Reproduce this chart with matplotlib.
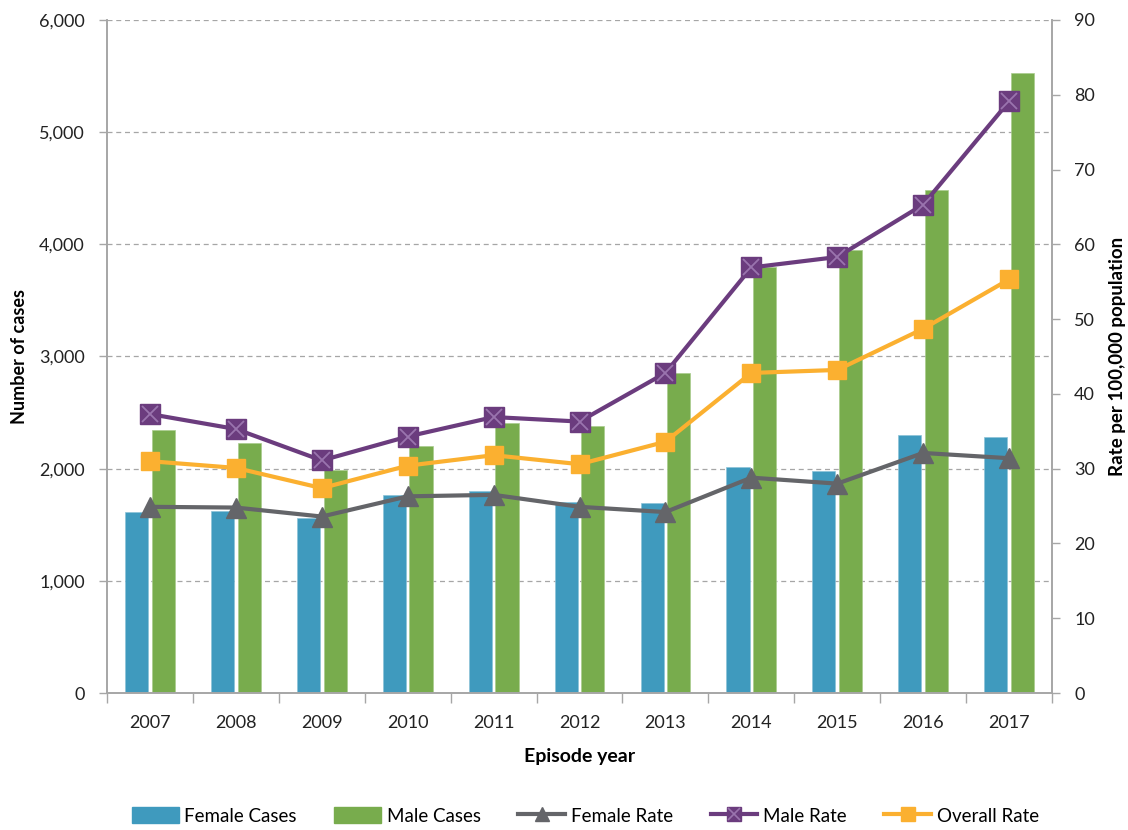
import matplotlib
matplotlib.use("Agg")
import matplotlib.pyplot as plt
import numpy as np
from matplotlib.ticker import FuncFormatter, MultipleLocator, FixedLocator
from matplotlib.lines import Line2D
from matplotlib.patches import Patch

years = ["2007", "2008", "2009", "2010", "2011", "2012", "2013", "2014", "2015", "2016", "2017"]
female_cases = [1615, 1625, 1563, 1767, 1801, 1705, 1691, 2017, 1982, 2303, 2280]
male_cases = [2341, 2228, 1985, 2199, 2404, 2383, 2855, 3800, 3948, 4480, 5523]
female_rate = [24.9, 24.8, 23.6, 26.3, 26.5, 24.9, 24.2, 28.8, 28.0, 32.1, 31.4]
male_rate = [37.3, 35.3, 31.1, 34.3, 36.9, 36.3, 42.8, 56.9, 58.3, 65.3, 79.1]
overall_rate = [31.0, 30.1, 27.4, 30.4, 31.8, 30.6, 33.6, 42.8, 43.2, 48.7, 55.3]

c_fem = "#3F9ABE"
c_male = "#78AC4D"
c_frate = "#646569"
c_mrate = "#6B3C7E"
c_mx = "#9A74AE"
c_orate = "#FBB030"
axis_col = "#A6A6A6"

plt.rcParams['font.family'] = ['Lato', 'DejaVu Sans']

fig = plt.figure(figsize=(11.28, 8.30), dpi=100)
ax = fig.add_axes([0.0949, 0.165, 0.8377, 0.811])
ax2 = ax.twinx()

x = np.arange(len(years))
bw = 0.27
off = 0.155
ax.bar(x - off, female_cases, bw, color=c_fem, edgecolor="#8CC3D8", linewidth=0.5, zorder=2)
ax.bar(x + off, male_cases, bw, color=c_male, edgecolor="#A9CC8E", linewidth=0.5, zorder=2)

ax.set_xlim(-0.5, len(years) - 0.5)
ax.set_ylim(0, 6000)
ax.yaxis.set_major_locator(MultipleLocator(1000))
ax.yaxis.set_major_formatter(FuncFormatter(lambda v, p: f"{int(v):,}"))
ax.grid(axis='y', linestyle=(0, (4, 3)), color="#A6A6A6", linewidth=0.9, zorder=0)
ax.set_axisbelow(True)

ax.set_xticks(x)
ax.set_xticklabels(years)
ax.xaxis.set_minor_locator(FixedLocator(np.arange(-0.5, len(years), 1.0)))
ax.tick_params(axis='x', which='major', length=0, pad=16, labelsize=13, colors="#222222")
ax.tick_params(axis='x', which='minor', length=7, width=1, color=axis_col)
ax.tick_params(axis='y', length=6, width=1, color=axis_col, labelsize=13, labelcolor="#222222", pad=10)

ax2.plot(x, female_rate, color=c_frate, lw=3, marker='^', markersize=15, zorder=3)
ax2.plot(x, overall_rate, color=c_orate, lw=3, marker='s', markersize=13.5, zorder=4)
ax2.plot(x, male_rate, color=c_mrate, lw=3, marker='s', markersize=14, zorder=5)
ax2.plot(x, male_rate, color=c_mx, lw=0, marker='x', markersize=11, markeredgewidth=1.3, zorder=6)
ax2.set_ylim(0, 90)
ax2.yaxis.set_major_locator(MultipleLocator(10))
ax2.tick_params(axis='y', length=6, width=1, color=axis_col, labelsize=13, labelcolor="#222222", pad=10)

for a in (ax, ax2):
    a.spines['top'].set_visible(False)
    for s in ('left', 'right', 'bottom'):
        a.spines[s].set_color(axis_col)
        a.spines[s].set_linewidth(1.2)

ax.set_ylabel("Number of cases", fontsize=13, fontweight='bold', labelpad=8)
ax2.set_ylabel("Rate per 100,000 population", fontsize=13.5, fontweight='bold', labelpad=10)
ax.set_xlabel("Episode year", fontsize=14, fontweight='bold', labelpad=12)

h_f = Patch(color=c_fem)
h_m = Patch(color=c_male)
h_fr = Line2D([], [], color=c_frate, lw=3, marker='^', markersize=10)
h_mr = Line2D([], [], color=c_mrate, lw=3, marker='s', markersize=10)
h_mx = Line2D([], [], color=c_mx, lw=0, marker='x', markersize=8, markeredgewidth=1.2)
h_or = Line2D([], [], color=c_orate, lw=3, marker='s', markersize=10)
fig.legend([h_f, h_m, h_fr, (h_mr, h_mx), h_or],
           ["Female Cases", "Male Cases", "Female Rate", "Male Rate", "Overall Rate"],
           loc='center', bbox_to_anchor=(0.519, 0.017), ncol=5, frameon=False,
           fontsize=13.5, handlelength=2.5, handletextpad=0.3, columnspacing=2.0,
           handleheight=0.9)

fig.savefig("out.png", dpi=100)
